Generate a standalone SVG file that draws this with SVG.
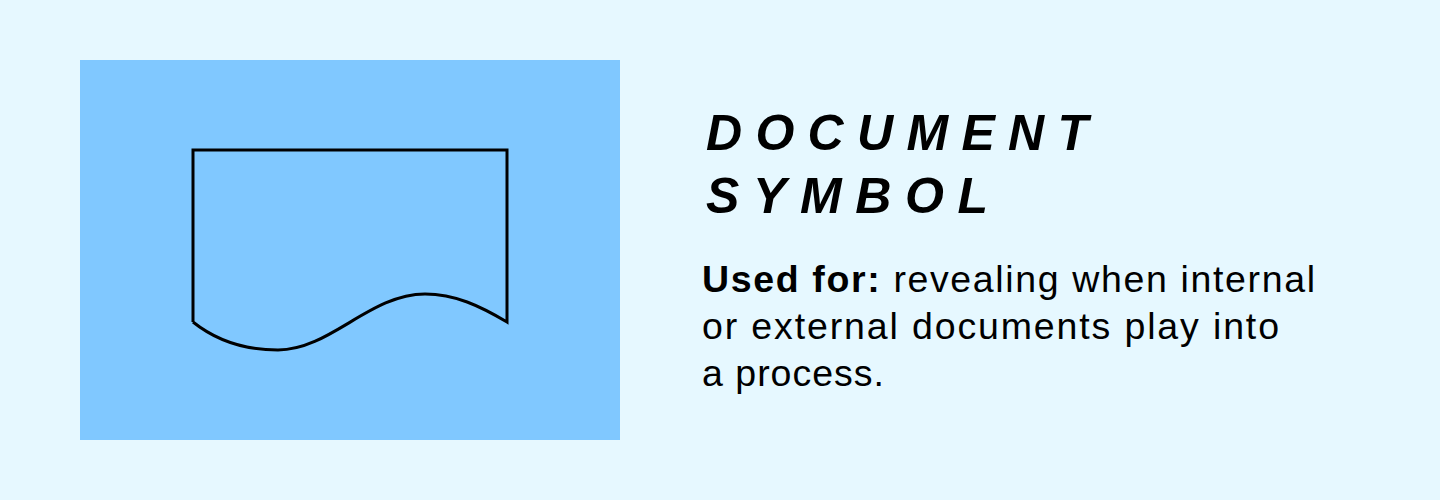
<svg xmlns="http://www.w3.org/2000/svg" width="1440" height="500" viewBox="0 0 1440 500">
<style>
.title{font-family:"Liberation Sans",Arial,sans-serif;font-weight:bold;font-style:italic;font-size:50px;fill:#000}
.body{font-family:"Liberation Sans",Arial,sans-serif;font-size:37.5px;letter-spacing:1px;fill:#000}
.doc{fill:none;stroke:#000;stroke-width:3;stroke-linejoin:miter}
</style>
<rect width="1440" height="500" fill="#E6F8FF"/>
<g id="panel">
<rect x="80" y="60" width="540" height="380" fill="#80C8FF"/>
</g>
<g id="document-symbol">
<path class="doc" d="M193,322 V150 H507 V322 C480,306 455,294 425,294 C370,294 330,350 278,350 C235,350 208,334 193,322"/>
</g>
<g id="title">
<text class="title" x="706" y="150" textLength="382" lengthAdjust="spacing">DOCUMENT</text>
<text class="title" x="706" y="213" textLength="282" lengthAdjust="spacing">SYMBOL</text>
</g>
<g id="description">
<text class="body" x="702" y="292" textLength="614" lengthAdjust="spacing"><tspan font-weight="bold">Used for:</tspan> revealing when internal</text>
<text class="body" x="702" y="339" textLength="578" lengthAdjust="spacing">or external documents play into</text>
<text class="body" x="702" y="386">a process.</text>
</g>
</svg>
